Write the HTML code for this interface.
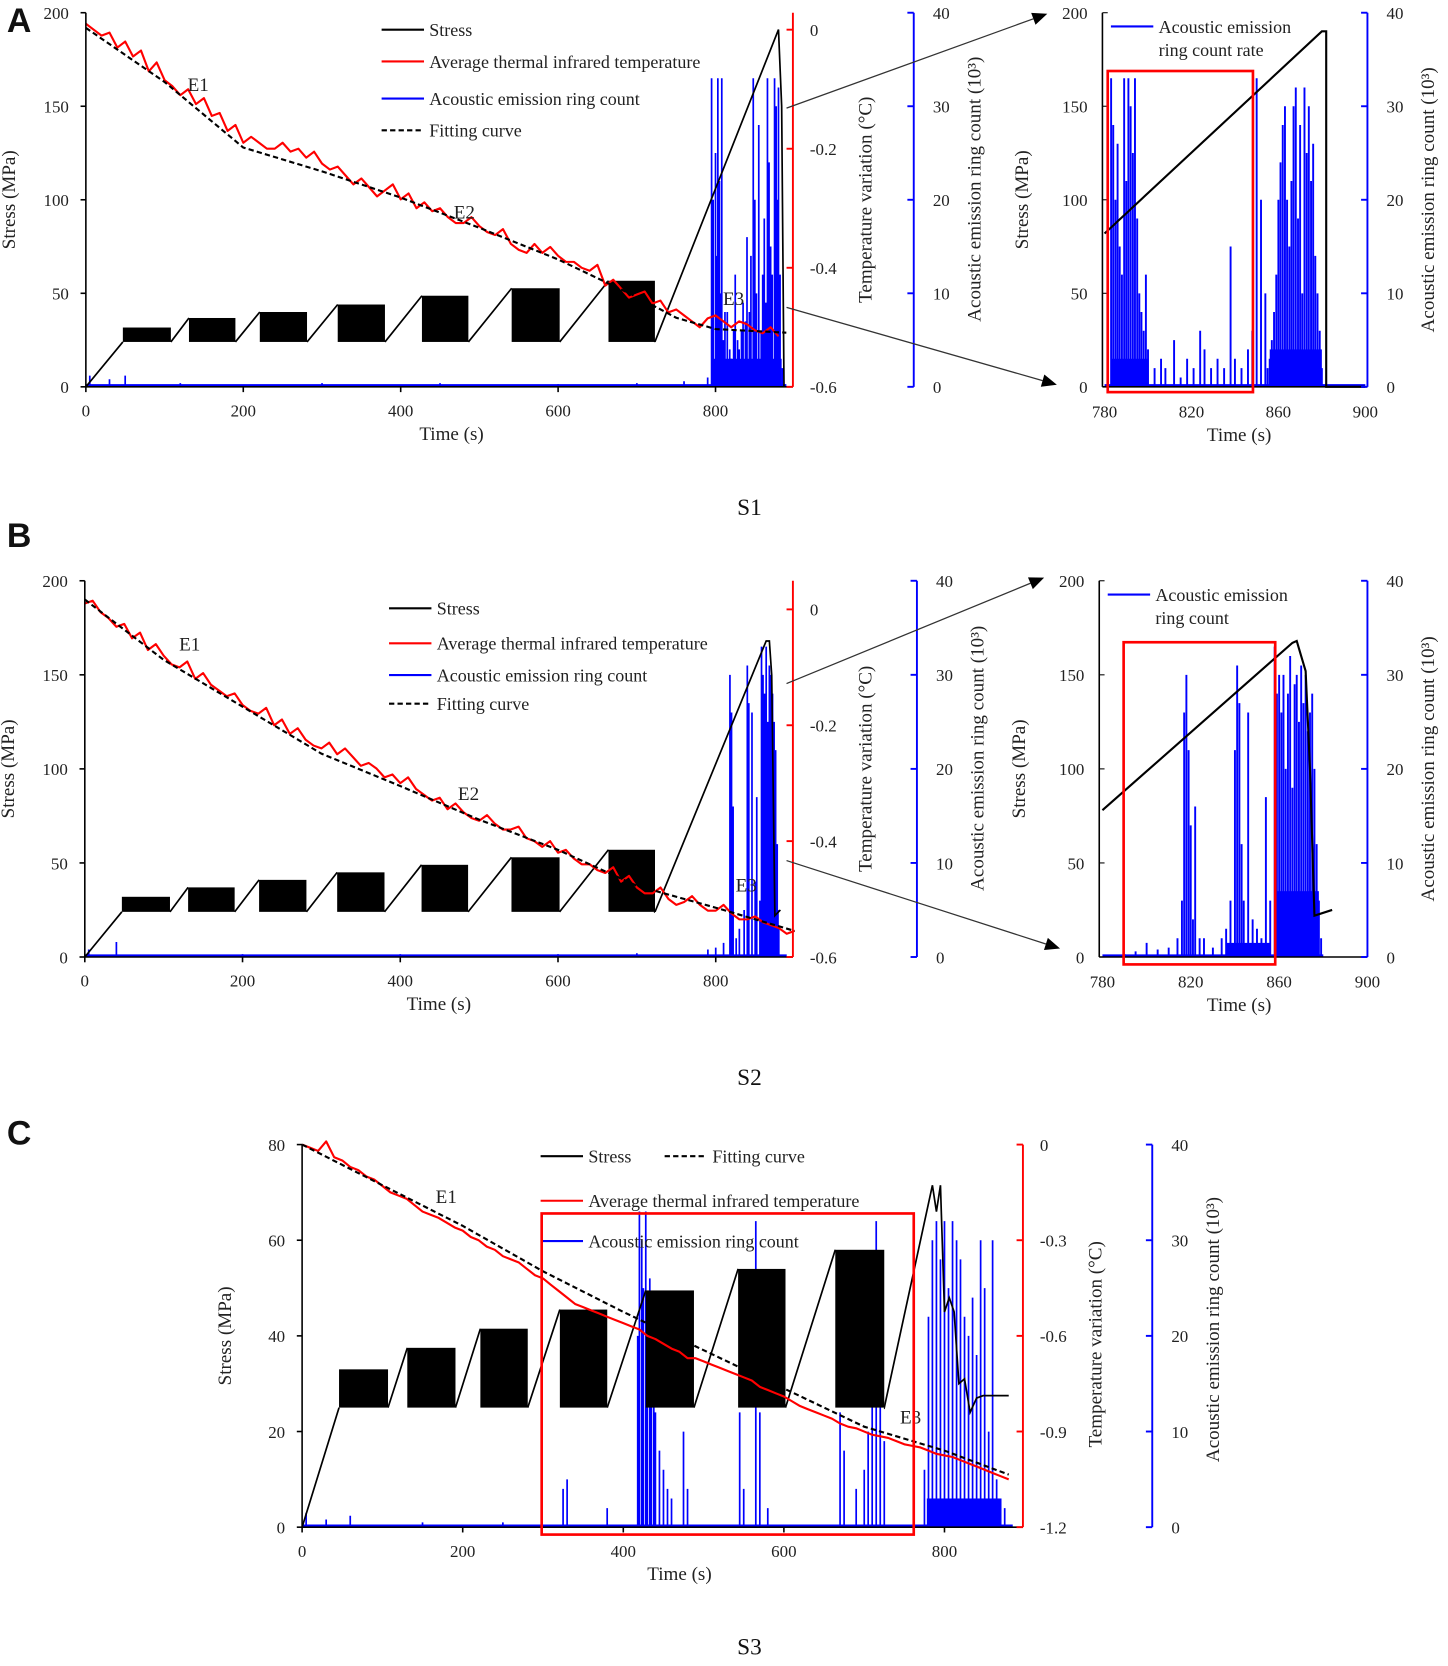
<!DOCTYPE html>
<html><head><meta charset="utf-8"><style>
html,body{margin:0;padding:0;background:#fff;}
svg{display:block;}
text{font-family:"Liberation Serif",serif;fill:#222;}
</style></head><body>
<svg id="fig" xmlns="http://www.w3.org/2000/svg" width="1448" height="1666" viewBox="0 0 1366 1572" preserveAspectRatio="none"></svg>
<script>
// ---------------- data ----------------
const blocksA = [[47,108,31.7],[131,190,36.8],[221,281,40],[320,380,44],[427,486,48.7],[541,602,52.7],[664,723,56.7]];
const blocksB = [[47,108,32],[131,190,37],[221,281,41],[320,380,45],[427,486,49],[541,602,53],[664,723,57]];
const blocksC = [[46,107,33],[131,191,37.5],[222,281,41.5],[321,380,45.5],[428,488,49.5],[543,602,54],[664,725,58]];
const tailA = [[723,24],[880,191],[884,150],[887,0]];
const tailB = [[723,24],[864,168],[868,168],[871,150],[875,22],[882,25]];
const tailC = [[725,25],[785,71.5],[790,66],[795,71.5],[800,45],[806,48],[812,45],[818,30],[825,31],[832,24],[840,27],[848,27.5],[880,27.5]];
const fitT_A = [0,100,200,300,400,500,600,700,750,800,890];
const fitV_A = [0.003,-0.088,-0.198,-0.238,-0.282,-0.333,-0.386,-0.449,-0.484,-0.503,-0.509];
const fitT_B = [0,100,200,300,400,500,600,700,800,900];
const fitV_B = [0.017,-0.087,-0.168,-0.249,-0.305,-0.363,-0.415,-0.477,-0.515,-0.555];
const fitT_C = [0,200,300,400,500,600,700,800,880];
const fitV_C = [0,-0.255,-0.3975,-0.525,-0.645,-0.765,-0.885,-0.96,-1.035];
// average thermal infrared temperature (every 10 s)
const redA = [0.01,0.0,-0.01,-0.005,-0.03,-0.02,-0.045,-0.035,-0.07,-0.055,-0.085,-0.095,-0.11,-0.1,-0.125,-0.115,-0.145,-0.14,-0.17,-0.16,-0.19,-0.18,-0.19,-0.2,-0.2,-0.19,-0.205,-0.2,-0.215,-0.205,-0.225,-0.235,-0.23,-0.245,-0.26,-0.25,-0.265,-0.28,-0.27,-0.26,-0.285,-0.275,-0.3,-0.29,-0.305,-0.3,-0.315,-0.325,-0.325,-0.315,-0.33,-0.34,-0.345,-0.335,-0.36,-0.37,-0.375,-0.36,-0.375,-0.365,-0.38,-0.39,-0.39,-0.4,-0.405,-0.395,-0.43,-0.42,-0.435,-0.45,-0.445,-0.44,-0.46,-0.455,-0.475,-0.47,-0.48,-0.49,-0.5,-0.485,-0.48,-0.49,-0.5,-0.49,-0.495,-0.505,-0.51,-0.5,-0.515];
const redB = [0.01,0.015,-0.005,-0.015,-0.03,-0.025,-0.05,-0.04,-0.07,-0.06,-0.08,-0.095,-0.1,-0.09,-0.12,-0.11,-0.13,-0.14,-0.15,-0.145,-0.165,-0.175,-0.18,-0.17,-0.2,-0.19,-0.215,-0.205,-0.225,-0.235,-0.24,-0.23,-0.25,-0.24,-0.255,-0.27,-0.265,-0.275,-0.29,-0.285,-0.3,-0.29,-0.31,-0.32,-0.33,-0.325,-0.345,-0.335,-0.35,-0.36,-0.365,-0.355,-0.37,-0.38,-0.38,-0.375,-0.395,-0.4,-0.41,-0.4,-0.42,-0.415,-0.43,-0.44,-0.44,-0.45,-0.455,-0.445,-0.47,-0.46,-0.48,-0.49,-0.49,-0.48,-0.5,-0.51,-0.505,-0.495,-0.51,-0.52,-0.52,-0.51,-0.525,-0.535,-0.535,-0.53,-0.54,-0.545,-0.55,-0.56,-0.555];
const redC = [0,-0.01,-0.02,0.01,-0.04,-0.05,-0.07,-0.08,-0.1,-0.11,-0.13,-0.15,-0.16,-0.17,-0.19,-0.21,-0.22,-0.23,-0.245,-0.26,-0.27,-0.29,-0.3,-0.32,-0.33,-0.35,-0.36,-0.37,-0.39,-0.41,-0.42,-0.44,-0.46,-0.48,-0.5,-0.51,-0.52,-0.53,-0.54,-0.55,-0.56,-0.57,-0.58,-0.6,-0.61,-0.625,-0.64,-0.65,-0.67,-0.67,-0.68,-0.69,-0.7,-0.71,-0.72,-0.73,-0.74,-0.76,-0.77,-0.78,-0.79,-0.805,-0.82,-0.83,-0.84,-0.85,-0.86,-0.875,-0.885,-0.89,-0.9,-0.91,-0.915,-0.92,-0.93,-0.94,-0.945,-0.95,-0.96,-0.97,-0.975,-0.98,-0.99,-1.0,-1.01,-1.02,-1.03,-1.04,-1.05];
const aeT_A = [5,30,50,120,300,450,600,700,760,790,795,797,800,802,803,805,806,808,810,812,815,818,820,823,825,828,830,833,835,838,840,843,845,848,850,852,855,858,860,862,864,866,868,870,872,875,877,878,880,882,885];
const aeV_A = [1.2,0.8,1.2,0.4,0.4,0.4,0.3,0.4,0.6,1,33,20,25,14,33,22,10,33,5,8,8,4,3,6,12,5,4,6,9,7,16,8,14,33,20,10,28,6,12,18,9,33,24,15,12,33,30,20,32,12,2];
const aeT_A2 = [783,784,785,786,787,788,789,790,791,792,793,794,795,796,797,798,799,800,803,806,808,812,815,818,821,824,826,829,832,835,838,840,843,846,848,850,852,854,855,856,857,858,859,860,861,862,863,864,865,866,867,868,869,870,871,872,873,874,875,876,877,878,879,880];
const aeV_A2 = [33,28,20,26,15,12,33,22,33,30,25,33,18,10,8,6,12,4,2,3,2,5,1,3,2,6,4,2,3,2,15,3,2,4,6,33,20,10,2,3,5,8,12,20,24,28,30,20,15,22,30,32,18,28,10,32,25,30,22,26,14,10,6,2];
const aeT_B = [5,40,200,400,600,700,790,800,810,818,820,822,826,830,836,840,842,846,850,852,856,858,860,862,864,866,868,870,872,874,876,878,880];
const aeV_B = [0.8,1.6,0.3,0.3,0.3,0.4,0.8,1,1.5,30,26,16,2,3,5,31,27,26,8,17,6,33,30,28,33,25,31,30,28,25,22,12,3];
const aeT_B2 = [790,795,800,805,810,814,816,817,818,819,820,821,822,824,826,830,834,836,838,840,841,842,843,844,846,848,850,852,854,856,858,859,860,861,862,863,864,865,866,867,868,869,870,871,872,873,874,875,876,877,878,879];
const aeV_B2 = [0.3,0.6,1.5,0.8,1,2,6,26,30,22,14,4,16,2,2,1,2,3,6,22,31,27,12,6,26,4,3,2,17,6,33,28,30,26,30,20,28,32,18,29,30,25,31,27,30,24,26,28,20,12,6,2];
const aeT_C = [5,30,60,150,250,325,330,380,418,420,423,425,428,430,433,435,438,440,445,450,455,460,475,480,545,550,565,570,580,670,675,690,700,705,710,715,720,725,775,780,785,790,795,800,805,810,815,820,825,830,835,840,845,850,855,860,865,870,875];
const aeV_C = [1.5,0.8,1.2,0.5,0.5,4,5,2,20,33,30,25,33,18,26,20,22,12,8,6,4,3,10,4,12,4,32,12,2,12,8,4,6,10,14,32,15,9,6,22,30,32,28,32,25,32,30,28,22,20,24,18,30,25,10,30,5,3,2];

// ---------------- helpers ----------------
const NS='http://www.w3.org/2000/svg';
const svg=document.getElementById('fig');
function el(tag,attrs,parent,text){const e=document.createElementNS(NS,tag);for(const k in attrs)e.setAttribute(k,attrs[k]);if(text!==undefined)e.textContent=text;(parent||svg).appendChild(e);return e;}
function txt(x,y,s,size,anchor,parent,extra){return el('text',Object.assign({x:x,y:y,'font-size':size,'text-anchor':anchor||'middle'},extra||{}),parent,s);}
function vtxt(x,y,s,size,parent){return txt(x,y,s,size,'middle',parent,{transform:'rotate(-90 '+x+' '+y+')'});}

function mainPanel(P){
  const g=el('g',{});
  
  
  const sx=t=>P.x0+(t/100)*P.px100;
  const sy=s=>P.y0-s*(P.y0-P.yTop)/P.sMax;
  const ty=T=>P.tY0+(T-P.tTop)*(P.tYb-P.tY0)/(P.tBot-P.tTop);
  const ay=v=>P.y0-v*(P.y0-P.aTop)/40;
  let d='';
  P.aeT.forEach((t,i)=>{d+='M'+sx(t).toFixed(1)+' '+P.y0+'V'+ay(P.aeV[i]).toFixed(1);});
  const ae=el('path',{d:d,stroke:'#0000ff','stroke-width':1.6,fill:'none'},g);
  
  
  const base=el('line',{x1:sx(0),x2:sx(P.aeEnd),y1:P.y0-1.5,y2:P.y0-1.5,stroke:'#0000ff','stroke-width':2},g);
  
  
  const dense=el('rect',{x:sx(P.denseFrom),y:ay(P.denseV),width:sx(P.denseTo)-sx(P.denseFrom),height:P.y0-ay(P.denseV),fill:'#0000ff'},g);
  
  
  let sd='M'+sx(0)+' '+sy(0)+'L'+sx(P.blocks[0][0])+' '+sy(P.bottom);
  P.blocks.forEach((b,i)=>{
    const r=el('rect',{x:sx(b[0]),y:sy(b[2]),width:sx(b[1])-sx(b[0]),height:sy(P.bottom)-sy(b[2]),fill:'#000'},g);
    
    
    if(i<P.blocks.length-1){sd+='M'+sx(b[1])+' '+sy(P.bottom)+'L'+sx(P.blocks[i+1][0])+' '+sy(P.blocks[i+1][2]);}
  });
  sd+='M'+sx(P.tail[0][0])+' '+sy(P.tail[0][1]);
  P.tail.forEach(p=>{sd+='L'+sx(p[0]).toFixed(1)+' '+sy(p[1]).toFixed(1);});
  const st=el('path',{d:sd,stroke:'#000','stroke-width':1.6,fill:'none'},g);
  
  
  let rd='';
  P.red.forEach((v,i)=>{rd+=(i?'L':'M')+sx(i*10).toFixed(1)+' '+ty(v).toFixed(1);});
  const rp=el('path',{d:rd,stroke:'#ff0000','stroke-width':2,fill:'none','stroke-linejoin':'round'},g);
  
  
  let fd='';
  P.fitT.forEach((t,i)=>{fd+=(i?'L':'M')+sx(t).toFixed(1)+' '+ty(P.fitV[i]).toFixed(1);});
  const fp=el('path',{d:fd,stroke:'#000','stroke-width':2,'stroke-dasharray':'5,3',fill:'none'},g);
  
  
  el('line',{x1:P.x0,x2:P.x0,y1:P.yTop,y2:P.y0,stroke:'#000','stroke-width':1.5},g);
  el('line',{x1:P.x0,x2:P.xEnd,y1:P.y0,y2:P.y0,stroke:'#000','stroke-width':1.5},g);
  for(let s=0;s<=P.sMax;s+=P.sStep){
    el('line',{x1:P.x0-5,x2:P.x0,y1:sy(s),y2:sy(s),stroke:'#000','stroke-width':1.5},g);
    txt(P.x0-16,sy(s)+6,String(s),16,'end',g);
  }
  for(let t=0;t<=800;t+=200){
    el('line',{x1:sx(t),x2:sx(t),y1:P.y0,y2:P.y0+5,stroke:'#000','stroke-width':1.5},g);
    txt(sx(t),P.y0+28,String(t),16,'middle',g);
  }
  const xt=txt(P.xTitleX,P.y0+50,'Time (s)',18,'middle',g);
  
  
  const yt=vtxt(P.x0-67,sy(P.sMax/2),'Stress (MPa)',18,g);
  
  
  el('line',{x1:P.rX,x2:P.rX,y1:P.yTop,y2:P.y0,stroke:'#ff0000','stroke-width':1.8},g);
  P.tTicks.forEach(T=>{
    el('line',{x1:P.rX-6,x2:P.rX,y1:ty(T),y2:ty(T),stroke:'#ff0000','stroke-width':1.8},g);
    txt(P.rX+16,ty(T)+6,String(T),16,'start',g);
  });
  const rt=vtxt(P.rX+74,(P.yTop+P.y0)/2+P.rTitleDy,'Temperature variation (°C)',18,g);
  
  
  el('line',{x1:P.bX,x2:P.bX,y1:P.aTop,y2:P.y0,stroke:'#0000ff','stroke-width':1.8},g);
  for(let v=0;v<=40;v+=10){
    el('line',{x1:P.bX-6,x2:P.bX,y1:ay(v),y2:ay(v),stroke:'#0000ff','stroke-width':1.8},g);
    txt(P.bX+18,ay(v)+6,String(v),16,'start',g);
  }
  const bt=vtxt(P.bX+63,(P.yTop+P.y0)/2+P.bTitleDy,'Acoustic emission ring count (10³)',18,g);
  
  
  return {g,sx,sy,ty,ay};
}

function legend(g,items){
  items.forEach(it=>{
    const lg=el('g',{},g);
    
    
    const a={x1:it.x,x2:it.x+40,y1:it.y,y2:it.y,stroke:it.c,'stroke-width':2};
    if(it.dash)a['stroke-dasharray']='5,3';
    el('line',a,lg);
    txt(it.x+45,it.y+6,it.t,17,'start',lg);
  });
}

function inset(I){
  const g=el('g',{});
  
  
  const sx=t=>I.x780+(t-780)*(I.x900-I.x780)/120;
  const sy=s=>I.y0-s*(I.y0-I.yTop)/200;
  const ay=v=>I.y0-v*(I.y0-I.yTop)/40;
  let d='';
  I.aeT.forEach((t,i)=>{d+='M'+sx(t).toFixed(1)+' '+I.y0+'V'+ay(I.aeV[i]).toFixed(1);});
  const ae=el('path',{d:d,stroke:'#0000ff','stroke-width':1.8,fill:'none'},g);
  
  
  el('line',{x1:sx(780),x2:sx(I.aeEnd),y1:I.y0-1.5,y2:I.y0-1.5,stroke:'#0000ff','stroke-width':2},g);
  I.dense.forEach(r=>{el('rect',{x:sx(r[0]),y:ay(r[2]),width:sx(r[1])-sx(r[0]),height:I.y0-ay(r[2]),fill:'#0000ff'},g);});
  let sd='';
  I.stress.forEach((p,i)=>{sd+=(i?'L':'M')+sx(p[0]).toFixed(1)+' '+sy(p[1]).toFixed(1);});
  const st=el('path',{d:sd,stroke:'#000','stroke-width':2,fill:'none'},g);
  
  
  el('line',{x1:I.xL,x2:I.xL,y1:I.yTop,y2:I.y0,stroke:'#000','stroke-width':1.5},g);
  el('line',{x1:I.xL,x2:I.xR,y1:I.y0,y2:I.y0,stroke:'#000','stroke-width':1.5},g);
  for(let s=0;s<=200;s+=50){el('line',{x1:I.xL,x2:I.xL+5,y1:sy(s),y2:sy(s),stroke:'#000'},g);txt(I.xL-14,sy(s)+6,String(s),16,'end',g);}
  for(let t=780;t<=900;t+=40){txt(sx(t),I.y0+29,String(t),16,'middle',g);}
  txt((I.x780+I.x900)/2+4,I.y0+51,'Time (s)',18,'middle',g);
  vtxt(I.xL-70,sy(100),'Stress (MPa)',18,g);
  el('line',{x1:I.xR,x2:I.xR,y1:I.yTop,y2:I.y0,stroke:'#0000ff','stroke-width':1.8},g);
  for(let v=0;v<=40;v+=10){el('line',{x1:I.xR-6,x2:I.xR,y1:ay(v),y2:ay(v),stroke:'#0000ff','stroke-width':1.8},g);txt(I.xR+18,ay(v)+6,String(v),16,'start',g);}
  vtxt(I.xR+63,sy(100),'Acoustic emission ring count (10³)',18,g);
  const lg=el('g',{},g);
  
  
  el('line',{x1:I.xL+8,x2:I.xL+48,y1:I.yTop+13,y2:I.yTop+13,stroke:'#0000ff','stroke-width':2},lg);
  txt(I.xL+53,I.yTop+19,'Acoustic emission',17,'start',lg);
  txt(I.xL+53,I.yTop+41,I.leg2,17,'start',lg);
  const rr=el('rect',{x:I.rect[0],y:I.rect[1],width:I.rect[2]-I.rect[0],height:I.rect[3]-I.rect[1],fill:'none',stroke:'#ff0000','stroke-width':2.5},g);
  
  
}

function arrow(x1,y1,x2,y2){
  const g=el('g',{});
  
  
  const ang=Math.atan2(y2-y1,x2-x1),L=14,W=6;
  const bx=x2-L*Math.cos(ang),by=y2-L*Math.sin(ang);
  el('line',{x1:x1,y1:y1,x2:bx,y2:by,stroke:'#333','stroke-width':1.2},g);
  el('polygon',{points:x2+','+y2+' '+(bx-W*Math.sin(ang))+','+(by+W*Math.cos(ang))+' '+(bx+W*Math.sin(ang))+','+(by-W*Math.cos(ang)),fill:'#000'},g);
}
function label(x,y,s,size,font,weight,name){
  const t=txt(x,y,s,size,'middle',svg,{style:'font-family:'+font+';font-weight:'+weight+';fill:#111'});
  
  
}

// ---------------- Panel A ----------------
const A=mainPanel({name:'panel-a-main-chart',x0:81,px100:74.25,y0:365,yTop:12,sMax:200,sStep:50,xEnd:748,xTitleX:426,
  tY0:28,tTop:0,tYb:365,tBot:-0.6,tTicks:[0,-0.2,-0.4,-0.6],aTop:12,rX:748,bX:862,rTitleDy:0,bTitleDy:-10,
  blocks:blocksA,bottom:24,tail:tailA,red:redA,fitT:fitT_A,fitV:fitV_A,aeT:aeT_A,aeV:aeV_A,aeEnd:890,denseFrom:796,denseTo:884,denseV:3});
legend(A.g,[{x:360,y:28,c:'#000',t:'Stress'},{x:360,y:58,c:'#ff0000',t:'Average thermal infrared temperature'},{x:360,y:93,c:'#0000ff',t:'Acoustic emission ring count'},{x:360,y:123,c:'#000',t:'Fitting curve',dash:true}]);
txt(187,86,'E1',18,'middle',A.g);txt(438,206,'E2',18,'middle',A.g);txt(692,288,'E3',18,'middle',A.g);
inset({name:'panel-a-inset',x780:1042,x900:1288,xL:1040,xR:1290,y0:365,yTop:12,aeT:aeT_A2,aeV:aeV_A2,aeEnd:900,
  dense:[[783,800,3],[856,880,4]],stress:[[780,82],[880,190],[882,190],[882,0],[900,0]],rect:[1045,67,1182,370],leg2:'ring count rate'});
arrow(742,102,988,13);arrow(742,290,997,363);
label(707,486,'S1',22,'Liberation Serif','normal','caption-s1');
label(18,30,'A',32,'Liberation Sans','bold','panel-label-a');

// ---------------- Panel B ----------------
const B=mainPanel({name:'panel-b-main-chart',x0:80,px100:74.4,y0:903,yTop:548,sMax:200,sStep:50,xEnd:748,xTitleX:414,
  tY0:575,tTop:0,tYb:903,tBot:-0.6,tTicks:[0,-0.2,-0.4,-0.6],aTop:548,rX:748,bX:865,rTitleDy:0,bTitleDy:-10,
  blocks:blocksB,bottom:24,tail:tailB,red:redB,fitT:fitT_B,fitV:fitV_B,aeT:aeT_B,aeV:aeV_B,aeEnd:890,denseFrom:856,denseTo:880,denseV:5});
legend(B.g,[{x:367,y:574,c:'#000',t:'Stress'},{x:367,y:607,c:'#ff0000',t:'Average thermal infrared temperature'},{x:367,y:637,c:'#0000ff',t:'Acoustic emission ring count'},{x:367,y:664,c:'#000',t:'Fitting curve',dash:true}]);
txt(179,614,'E1',18,'middle',B.g);txt(442,755,'E2',18,'middle',B.g);txt(704,841,'E3',18,'middle',B.g);
inset({name:'panel-b-inset',x780:1040,x900:1290,xL:1037,xR:1290,y0:903,yTop:548,aeT:aeT_B2,aeV:aeV_B2,aeEnd:880,
  dense:[[836,856,1.5],[858,878,7]],stress:[[780,78],[866,167],[868,168],[870,160],[872,152],[874,100],[876,22],[884,25]],rect:[1060,606,1203,910],leg2:'ring count'});
arrow(742,645,985,545);arrow(742,812,1000,895);
label(707,1024,'S2',22,'Liberation Serif','normal','caption-s2');
label(18,516,'B',32,'Liberation Sans','bold','panel-label-b');

// ---------------- Panel C ----------------
const C=mainPanel({name:'panel-c-main-chart',x0:285,px100:75.75,y0:1441,yTop:1080,sMax:80,sStep:20,xEnd:965,xTitleX:641,
  tY0:1080,tTop:0,tYb:1441,tBot:-1.2,tTicks:[0,-0.3,-0.6,-0.9,-1.2],aTop:1080,rX:965,bX:1087,rTitleDy:8,bTitleDy:-6,
  blocks:blocksC,bottom:25,tail:tailC,red:redC,fitT:fitT_C,fitV:fitV_C,aeT:aeT_C,aeV:aeV_C,aeEnd:885,denseFrom:778,denseTo:870,denseV:3});
legend(C.g,[{x:510,y:1091,c:'#000',t:'Stress'},{x:627,y:1091,c:'#000',t:'Fitting curve',dash:true},{x:510,y:1133,c:'#ff0000',t:'Average thermal infrared temperature'},{x:510,y:1171,c:'#0000ff',t:'Acoustic emission ring count'}]);
txt(421,1135,'E1',18,'middle',C.g);txt(859,1343,'E3',18,'middle',C.g);
const rc=el('rect',{x:511,y:1145,width:351,height:303,fill:'none',stroke:'#ff0000','stroke-width':2.5});


label(707,1561,'S3',22,'Liberation Serif','normal','caption-s3');
label(18,1080,'C',32,'Liberation Sans','bold','panel-label-c');
</script>
</body></html>
